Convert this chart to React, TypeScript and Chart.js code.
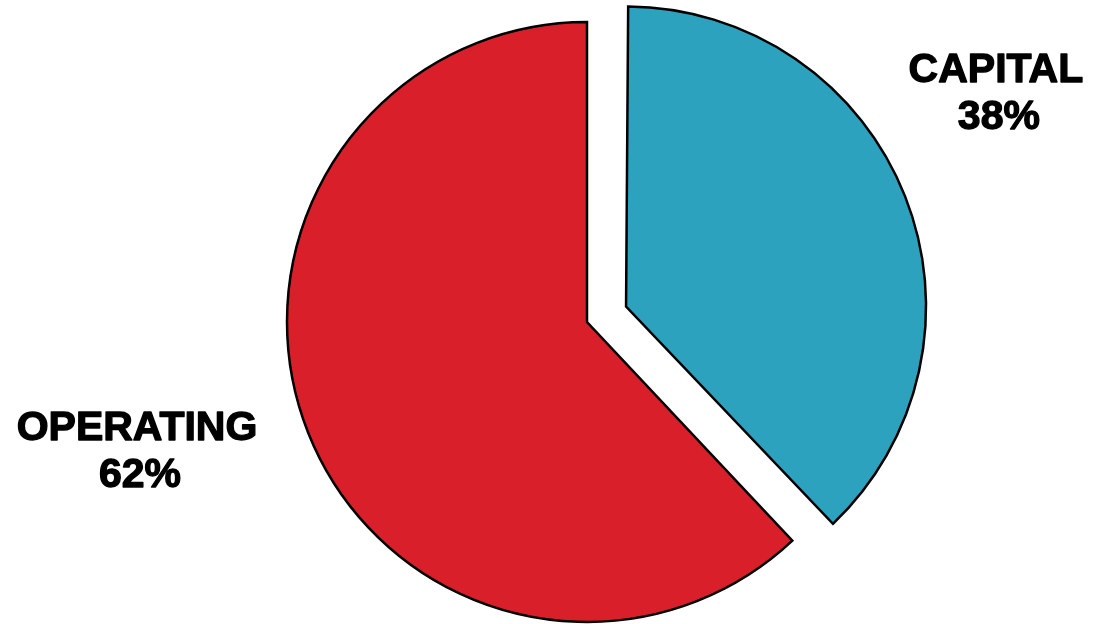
import React, { useEffect, useRef } from "react";
import { Chart, registerables } from "chart.js";

Chart.register(...registerables);

const categories = ["CAPITAL", "OPERATING"];
const shares = [38, 62];
const sliceColors = ["#2DA2BF", "#D9202A"];
const sliceOffsets = [168, 0];

// label anchors, as fractions of the pie radius from the pie centre
const labelPlacement = [
  { fx: 1.363, fy: -0.773 },
  { fx: -1.5, fy: 0.42 },
];

// Chart.js enlarges an offset arc's radius slightly; keep every slice at the same radius
const equalRadiusPlugin = {
  id: "equalRadius",
  beforeDatasetsDraw(chart: any) {
    const meta = chart.getDatasetMeta(0);
    meta.data.forEach((arc: any, i: number) => {
      const off = (sliceOffsets[i] || 0) / 4;
      if (!off) return;
      const fix = 1 - Math.sin(Math.min(Math.PI, arc.circumference || 0));
      arc.outerRadius = meta.controller.outerRadius - off * fix;
    });
  },
};

const labelPlugin = {
  id: "outerLabels",
  afterDraw(chart: any) {
    const meta = chart.getDatasetMeta(0);
    const ctx = chart.ctx;
    const r = meta.controller.outerRadius;
    ctx.save();
    ctx.fillStyle = "#000";
    ctx.strokeStyle = "#000";
    ctx.lineWidth = 1.3;
    ctx.lineJoin = "round";
    ctx.font = "bold 41px 'Liberation Sans', Arial, sans-serif";
    ctx.textAlign = "center";
    ctx.textBaseline = "alphabetic";
    meta.data.forEach((arc: any, i: number) => {
      const x = arc.x + labelPlacement[i].fx * r;
      const y = arc.y + labelPlacement[i].fy * r;
      const t1 = categories[i];
      const t2 = shares[i] + "%";
      ctx.fillText(t1, x, y - 8);
      ctx.strokeText(t1, x, y - 8);
      ctx.fillText(t2, x + 3, y + 39);
      ctx.strokeText(t2, x + 3, y + 39);
    });
    ctx.restore();
  },
};

export default function App() {
  const ref = useRef<HTMLCanvasElement>(null);
  useEffect(() => {
    if (!ref.current) return;
    const chart = new Chart(ref.current, {
      type: "pie",
      data: {
        labels: categories,
        datasets: [
          {
            data: shares,
            backgroundColor: sliceColors,
            borderColor: "#000",
            borderWidth: 2.5,
            borderJoinStyle: "miter",
            offset: sliceOffsets,
          } as any,
        ],
      },
      options: {
        animation: false,
        responsive: false,
        radius: 300,
        layout: { padding: { top: 20, bottom: 0, left: 81, right: 0 } },
        plugins: {
          legend: { display: false },
          tooltip: { enabled: false },
        },
      } as any,
      plugins: [equalRadiusPlugin, labelPlugin],
    });
    return () => chart.destroy();
  }, []);
  return (
    <div style={{ position: "fixed", left: 0, top: 0, width: 1093, height: 624, background: "#fff" }}>
      <canvas ref={ref} width={1093} height={624} style={{ width: 1093, height: 624 }} />
    </div>
  );
}
